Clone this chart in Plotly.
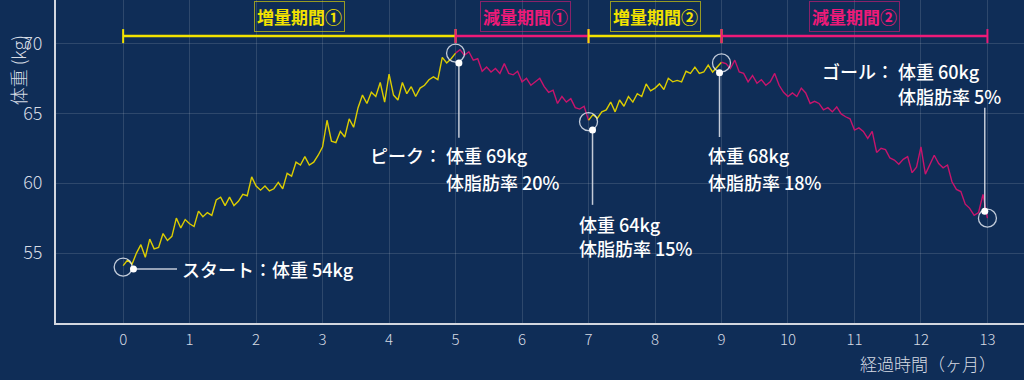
import plotly.graph_objects as go

# ---------------- data ----------------
# body weight (kg), sampled every 2 days (15 samples per month), month 0 .. 13
weights = [
    54.1, 54.5, 54.2, 55.0, 55.6, 54.7, 56.0, 55.3, 55.4, 56.4,
    55.9, 56.2, 57.5, 56.8, 57.4, 57.1, 56.9, 58.0, 57.6, 57.9,
    57.7, 58.8, 59.0, 58.4, 59.0, 58.4, 58.7, 59.2, 59.1, 60.45,
    59.8, 59.5, 59.8, 59.45, 59.6, 60.05, 59.6, 60.7, 60.5, 61.5,
    61.3, 61.9, 61.3, 61.5, 62.0, 62.6, 64.5, 63.0, 62.9, 63.7,
    63.3, 64.6, 64.0, 65.4, 66.3, 65.7, 66.5, 66.2, 67.2, 65.8,
    67.8, 66.3, 65.95, 67.2, 66.4, 66.9, 66.2, 66.8, 67.0, 67.4,
    67.6, 67.4, 69.0, 68.6, 68.9, 69.3,
    69.55, 69.15, 69.4, 68.8, 68.9, 68.0, 68.3, 67.95, 68.2, 67.85,
    68.55, 67.85, 67.75, 68.0, 67.25, 67.5, 67.0, 67.25, 67.5, 66.9,
    66.5, 66.65, 65.7, 66.2, 65.8, 66.05, 65.4, 65.3, 65.5, 64.5,
    64.9, 64.65, 65.1, 65.24, 65.8, 65.1, 65.95, 65.5, 66.2, 65.8,
    66.4, 66.2, 67.1, 66.6, 66.8, 67.1, 66.7, 67.5, 67.25, 67.35,
    67.25, 68.0, 67.85, 68.3, 67.85, 67.95, 68.45, 67.95, 68.3, 68.65,
    68.55, 68.2, 68.8, 67.95, 67.85, 67.25, 67.7, 67.15, 67.4, 67.0,
    67.25, 67.85, 67.0, 66.5, 66.2, 66.45, 66.2, 66.8, 66.45, 65.7,
    65.85, 65.7, 65.25, 65.4, 65.1, 65.45, 64.95, 64.75, 64.6, 63.8,
    63.95, 63.7, 63.2, 63.7, 62.2, 62.5, 62.4, 61.8, 61.65, 61.35,
    61.7, 61.9, 60.75, 61.15, 62.6, 60.65, 61.3, 62.0, 61.4, 61.1,
    61.3, 60.1, 59.55, 59.4, 58.5, 58.2, 57.7, 57.9, 59.2, 57.5,
]
samples_per_month = 15
months = [i / samples_per_month for i in range(len(weights))]

phase_names = ["増量期間①", "減量期間①", "増量期間②", "減量期間②"]
phase_start = [0, 5, 7, 9]
phase_end = [5, 7, 9, 13]
phase_kind = ["gain", "loss", "gain", "loss"]
phase_label_x = [2.65, 6.05, 8.0, 11.0]
phase_bar_y = 70.52
phase_label_y = 71.9

# key points (circle centres)
key_month = [0, 5, 7, 9, 13]
key_weight = [54.0, 69.3, 64.4, 68.6, 57.5]
# callout dots and leader-line ends
dot_month = [0.155, 5.05, 7.06, 8.97, 12.96]
dot_weight = [53.87, 68.6, 63.8, 67.9, 58.0]
leader_end_month = [0.81, 5.05, 7.06, 8.97, 12.96]
leader_end_weight = [53.87, 63.25, 58.45, 63.3, 65.4]

# callout texts: (text, x, y, anchor)
callout_texts = [
    ("スタート：体重 54kg", 0.855, 53.87, "left"),
    ("ピーク：", 4.83, 62.0, "right"),
    ("体重 69kg", 4.83, 62.0, "left"),
    ("体脂肪率 20%", 4.83, 60.1, "left"),
    ("体重 64kg", 6.83, 57.1, "left"),
    ("体脂肪率 15%", 6.83, 55.36, "left"),
    ("体重 68kg", 8.77, 62.0, "left"),
    ("体脂肪率 18%", 8.77, 60.1, "left"),
    ("ゴール：", 11.63, 68.0, "right"),
    ("体重 60kg", 11.63, 68.0, "left"),
    ("体脂肪率 5%", 11.63, 66.2, "left"),
]

x_ticks = list(range(0, 14))
y_ticks = [55, 60, 65, 70]

# ---------------- style ----------------
BG = "#0f2d57"
LINE_COL = {"gain": "#dccd00", "loss": "#c8146c"}
BAR_COL = {"gain": "#f2e200", "loss": "#ee1a78"}
BOX_COL = {"gain": "rgba(242,226,0,0.6)", "loss": "rgba(238,26,120,0.55)"}
GRID = "rgba(255,255,255,0.13)"
AXIS = "#d3d7df"
TICK = "#d6dbe4"
CIRCLE = "rgba(225,230,240,0.85)"
FONT = "Noto Sans CJK JP"

fig = go.Figure()

# weight line, coloured by phase
for s, e, kind in zip(phase_start, phase_end, phase_kind):
    i0, i1 = s * samples_per_month, e * samples_per_month
    fig.add_trace(go.Scatter(
        x=months[i0:i1 + 1], y=weights[i0:i1 + 1], mode="lines",
        line=dict(color=LINE_COL[kind], width=1.4), hoverinfo="skip",
        showlegend=False))

# phase bars at top
for s, e, kind in zip(phase_start, phase_end, phase_kind):
    fig.add_trace(go.Scatter(
        x=[s, e], y=[phase_bar_y, phase_bar_y], mode="lines+markers",
        line=dict(color=BAR_COL[kind], width=2.5),
        marker=dict(symbol="line-ns-open", size=10, color=BAR_COL[kind],
                    line=dict(color=BAR_COL[kind], width=2)),
        hoverinfo="skip", showlegend=False))

# leader lines
for xm, yw, xe, ye in zip(dot_month, dot_weight, leader_end_month, leader_end_weight):
    fig.add_trace(go.Scatter(
        x=[xm, xe], y=[yw, ye], mode="lines",
        line=dict(color="rgba(215,220,230,0.9)", width=1.5),
        hoverinfo="skip", showlegend=False))

# key circles
fig.add_trace(go.Scatter(
    x=key_month, y=key_weight, mode="markers",
    marker=dict(symbol="circle-open", size=18, color=CIRCLE,
                line=dict(color=CIRCLE, width=1.3)),
    hoverinfo="skip", showlegend=False))
# dots
fig.add_trace(go.Scatter(
    x=dot_month, y=dot_weight, mode="markers",
    marker=dict(symbol="circle", size=7, color="white"),
    hoverinfo="skip", showlegend=False))

annotations = []
for name, kind, lx in zip(phase_names, phase_kind, phase_label_x):
    annotations.append(dict(
        x=lx, y=phase_label_y, xref="x", yref="y", text=name, showarrow=False,
        font=dict(family=FONT, size=17, color=BAR_COL[kind], weight="bold"),
        bordercolor=BOX_COL[kind], borderwidth=1, borderpad=2,
        xanchor="center", yanchor="middle"))

for txt, tx, ty, anc in callout_texts:
    annotations.append(dict(
        x=tx, y=ty, xref="x", yref="y", text=txt, showarrow=False,
        font=dict(family=FONT, size=18, color="white", weight=500),
        xanchor=anc, yanchor="middle"))

# axis titles
annotations.append(dict(
    x=-0.039, y=0.783, xref="paper", yref="paper", text="体重 (kg)",
    textangle=-90, showarrow=False,
    font=dict(family=FONT, size=18, color=TICK, weight=300),
    xanchor="center", yanchor="middle"))
annotations.append(dict(
    x=0.973, y=-0.125, xref="paper", yref="paper", text="経過時間（ヶ月）",
    showarrow=False, font=dict(family=FONT, size=17, color=TICK, weight=300),
    xanchor="right", yanchor="middle"))

fig.update_layout(
    width=1024, height=380,
    margin=dict(l=56, r=0, t=0, b=57),
    paper_bgcolor=BG, plot_bgcolor=BG,
    annotations=annotations,
    xaxis=dict(range=[-1.01, 13.55], tickvals=x_ticks, showgrid=True,
               gridcolor=GRID, gridwidth=1, zeroline=False, showline=True,
               linecolor=AXIS, linewidth=2, ticks="",
               tickfont=dict(family=FONT, size=15, color=TICK, weight=300),
               ticklabelstandoff=2),
    yaxis=dict(range=[50, 73.1], tickvals=y_ticks, showgrid=True,
               gridcolor=GRID, gridwidth=1, zeroline=False, showline=True,
               linecolor=AXIS, linewidth=2, ticks="",
               tickfont=dict(family=FONT, size=18, color=TICK, weight=300),
               ticklabelstandoff=8),
)

fig.write_html(
    "out.html",
    config={"displayModeBar": False},
    post_script="document.body.style.margin='0';document.body.style.background='" + BG + "';",
)
